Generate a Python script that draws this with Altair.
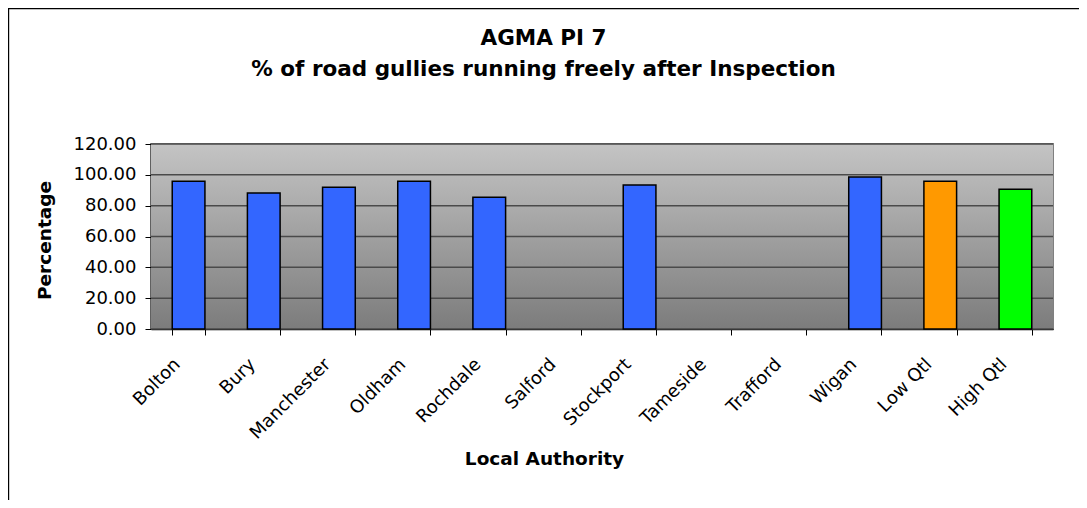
import altair as alt
import pandas as pd

categories = ["Bolton", "Bury", "Manchester", "Oldham", "Rochdale", "Salford",
              "Stockport", "Tameside", "Trafford", "Wigan", "Low Qtl", "High Qtl"]
values = [95.8, 88.2, 91.9, 95.8, 85.4, None, 93.4, None, None, 98.6, 95.8, 90.6]
bar_colors = ["#3366FF"] * 10 + ["#FF9900", "#00FF00"]
y_ticks = [0, 20, 40, 60, 80, 100, 120]

title_lines = ["AGMA PI 7", "% of road gullies running freely after Inspection"]
x_title = "Local Authority"
y_title = "Percentage"

FONT = "DejaVu Sans"
W, H = 902, 185
PAD = {"left": 143, "top": 136, "right": 26, "bottom": 171}

df = pd.DataFrame({"Local Authority": categories, "Percentage": values})
grid_df = pd.DataFrame({"Percentage": y_ticks})
one = pd.DataFrame({"a": [0]})

yscale = alt.Scale(domain=[0, 120])
y_axis = alt.Axis(
    title=y_title, values=y_ticks, format=".2f", grid=False,
    labelFontSize=18, labelPadding=9, labelColor="black", labelFont=FONT,
    labelBaseline="middle",
    tickSize=6, tickColor="black", domainColor="black", domainWidth=1.5,
    titleFontSize=18.5, titleFont=FONT, titleFontWeight="bold", titleColor="black",
    titleX=-101, titleY=96, titleAngle=-90, titleBaseline="alphabetic",
    titleAlign="center",
)

background = alt.Chart(one).mark_rect(
    color=alt.LinearGradient(
        gradient="linear",
        stops=[alt.GradientStop(color="#c4c4c4", offset=0),
               alt.GradientStop(color="#7c7c7c", offset=1)],
        x1=0, x2=0, y1=0, y2=1,
    )
).encode(x=alt.value(0), x2=alt.value("width"), y=alt.value(0), y2=alt.value("height"))

grid = alt.Chart(grid_df).mark_rule(color="#4a4a4a", strokeWidth=1.5).encode(
    y=alt.Y("Percentage:Q", scale=yscale, axis=y_axis),
    x=alt.value(0), x2=alt.value("width"),
)

bars = alt.Chart(df).mark_bar(stroke="black", strokeWidth=1.5).encode(
    x=alt.X(
        "Local Authority:N",
        sort=categories,
        scale=alt.Scale(domain=categories, paddingInner=0.565, paddingOuter=0.2825),
        axis=alt.Axis(
            title=x_title, labelAngle=-45, labelAlign="right", labelBaseline="alphabetic",
            labelFontSize=18, labelPadding=30, labelOffset=-8, labelColor="black",
            labelFont=FONT,
            tickBand="extent", tickSize=6, tickColor="black", domainColor="black",
            domainWidth=1.5, titleFontSize=18.5, titleFont=FONT, titleFontWeight="bold",
            titleColor="black", titleX=393, titleY=135, titleBaseline="alphabetic",
            titleAlign="center", labelOverlap=False, labelLimit=0,
        ),
    ),
    y=alt.Y("Percentage:Q", scale=yscale, axis=y_axis),
    color=alt.Color("Local Authority:N",
                    scale=alt.Scale(domain=categories, range=bar_colors),
                    legend=None),
)

title1 = alt.Chart(one).mark_text(
    text=title_lines[0], font=FONT, fontSize=21.5, fontWeight="bold", color="black",
    align="center", baseline="alphabetic",
).encode(x=alt.value(392.5), y=alt.value(-99))
title2 = alt.Chart(one).mark_text(
    text=title_lines[1], font=FONT, fontSize=21.5, fontWeight="bold", color="black",
    align="center", baseline="alphabetic",
).encode(x=alt.value(392.5), y=alt.value(-68))

frame_left = alt.Chart(one).mark_rule(color="black", strokeWidth=1.2).encode(
    x=alt.value(-142.4), y=alt.value(-136), y2=alt.value(H + PAD["bottom"]),
)
frame_top = alt.Chart(one).mark_rule(color="black", strokeWidth=1.2).encode(
    x=alt.value(-143), x2=alt.value(W + PAD["right"]), y=alt.value(-135.4),
)

chart = alt.layer(background, grid, bars, title1, title2, frame_left, frame_top).properties(
    width=W, height=H,
    autosize=alt.AutoSizeParams(type="none"),
    padding=PAD,
).configure(font=FONT).configure_view(stroke="#808080", strokeWidth=2)

chart.save("out.html", embed_options={"renderer": "svg", "actions": False})
